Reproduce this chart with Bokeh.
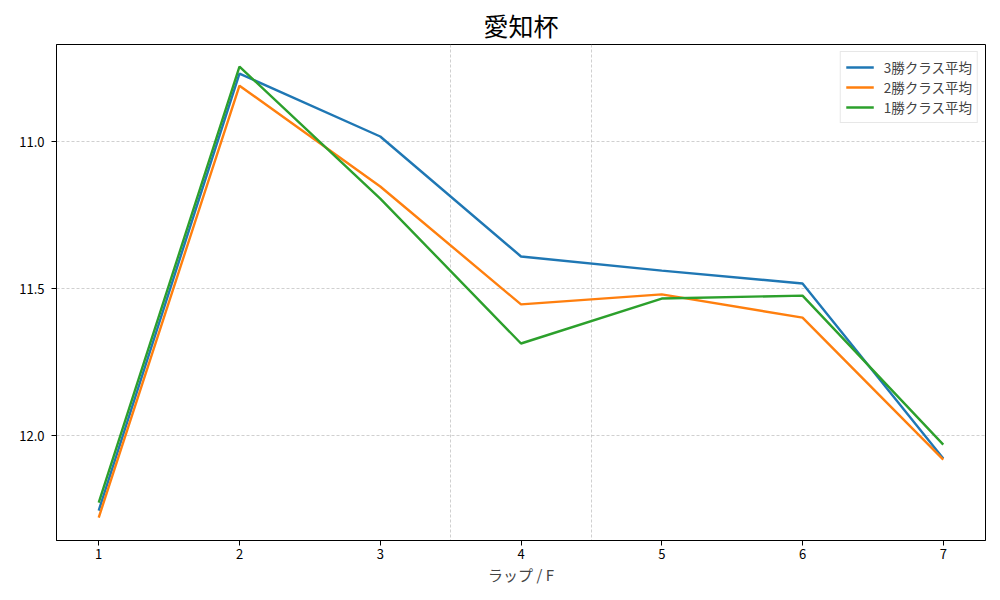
from bokeh.plotting import figure
from bokeh.models import Range1d, FixedTicker, Legend, LegendItem, NumeralTickFormatter
from bokeh.embed import file_html
from bokeh.resources import INLINE

laps = [1, 2, 3, 4, 5, 6, 7]
class3 = [12.255, 10.769, 10.983, 11.391, 11.439, 11.483, 12.078]
class2 = [12.279, 10.810, 11.153, 11.554, 11.520, 11.599, 12.082]
class1 = [12.228, 10.745, 11.194, 11.687, 11.534, 11.524, 12.031]
series_names = ["3勝クラス平均", "2勝クラス平均", "1勝クラス平均"]
colors = ["#1f77b4", "#ff7f0e", "#2ca02c"]
y_ticks = [11.0, 11.5, 12.0]
v_grid = [3.5, 4.5]

FONT = "Noto Sans CJK JP"

p = figure(width=1000, height=600, output_backend="svg", toolbar_location=None,
           title="愛知杯",
           x_range=Range1d(0.7, 7.3), y_range=Range1d(12.357, 10.670),
           min_border_left=56, min_border_right=15, min_border_top=44, min_border_bottom=60)

p.title.align = "center"
p.title.text_font = FONT
p.title.text_font_size = "25px"
p.title.text_font_style = "normal"
p.title.text_color = "black"
p.title.standoff = 4

p.outline_line_color = "black"
p.outline_line_width = 1
p.outline_line_alpha = 1

for ax in (p.xaxis[0], p.yaxis[0]):
    ax.major_label_text_font = FONT
    ax.major_label_text_font_size = "13px"
    ax.major_label_text_color = "black"
    ax.axis_line_color = "black"
    ax.major_tick_line_color = "black"
    ax.major_tick_out = 5
    ax.major_tick_in = 0
    ax.minor_tick_line_color = None

p.xaxis.ticker = FixedTicker(ticks=laps)
p.yaxis.ticker = FixedTicker(ticks=y_ticks)
p.yaxis.formatter = NumeralTickFormatter(format="0.0")
p.xaxis.axis_label = "ラップ / F"
p.xaxis.axis_label_text_font = FONT
p.xaxis.axis_label_text_font_size = "15px"
p.xaxis.axis_label_text_font_style = "normal"
p.xaxis.axis_label_standoff = 2
p.xaxis.major_label_standoff = 3
p.yaxis.major_label_standoff = 7

p.ygrid.ticker = FixedTicker(ticks=y_ticks)
p.ygrid.grid_line_color = "#b0b0b0"
p.ygrid.grid_line_dash = "3 2"
p.ygrid.grid_line_width = 0.6
p.xgrid.ticker = FixedTicker(ticks=v_grid)
p.xgrid.grid_line_color = "#b0b0b0"
p.xgrid.grid_line_dash = "3 2"
p.xgrid.grid_line_width = 0.6

items = []
for name, ys, c in zip(series_names, [class3, class2, class1], colors):
    r = p.line(laps, ys, line_color=c, line_width=2.4)
    items.append(LegendItem(label=name, renderers=[r]))

legend = Legend(items=items, location="top_right")
legend.label_text_font = FONT
legend.label_text_font_size = "13.5px"
legend.label_height = 16
legend.glyph_width = 28
legend.glyph_height = 16
legend.label_standoff = 10
legend.spacing = 0
legend.padding = 5
legend.margin = 7
legend.border_line_color = "#d0d0d0"
legend.background_fill_alpha = 0.8
p.add_layout(legend)

open("out.html", "w").write(file_html(p, INLINE))
